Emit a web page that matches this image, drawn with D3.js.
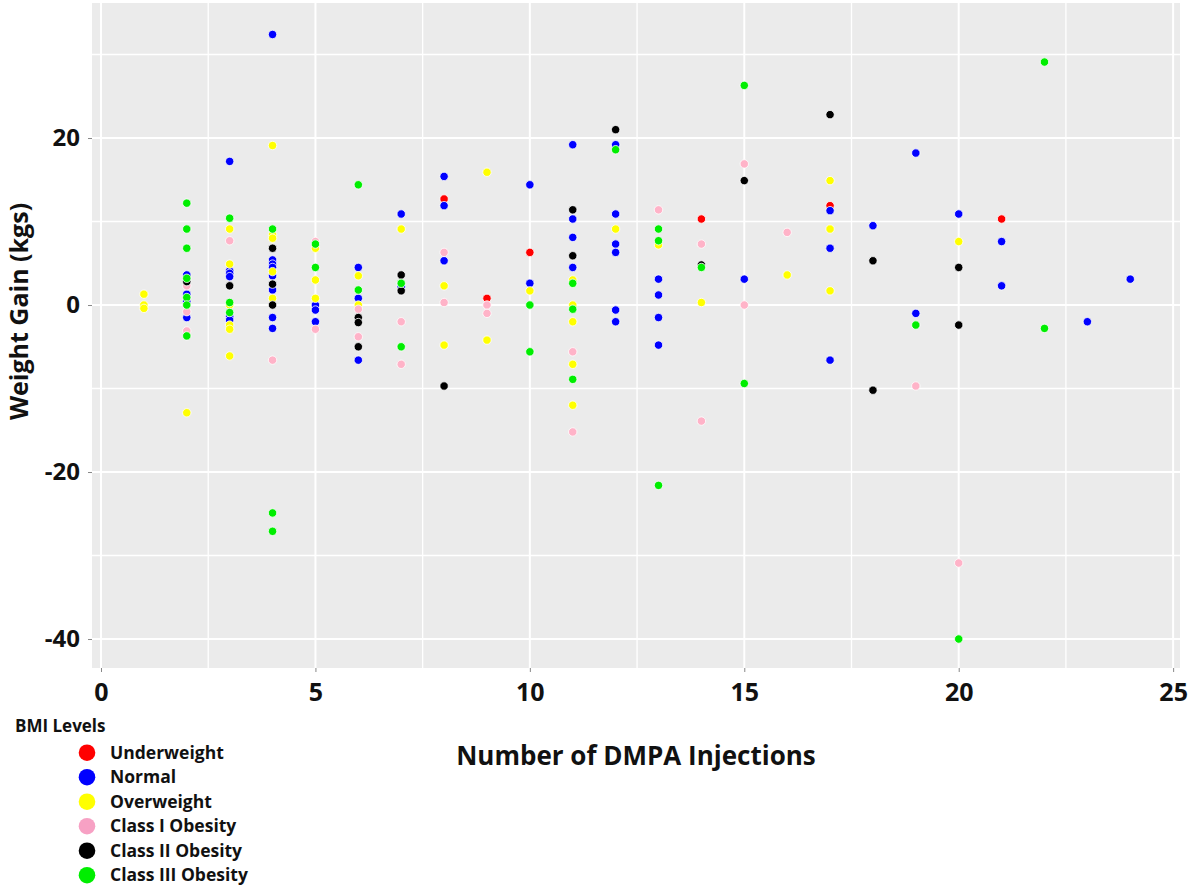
<!DOCTYPE html>
<html>
<head>
<meta charset="utf-8">
<script src="https://cdn.jsdelivr.net/npm/d3@7/dist/d3.min.js"></script>
<style>
  html, body { margin: 0; padding: 0; background: #ffffff; }
  svg text { font-family: "Open Sans", Lato, sans-serif; font-weight: 700; fill: #111; }
</style>
</head>
<body>
<svg id="chart" width="1200" height="885"></svg>
<script>
// ---- data ----
const levels = ["Underweight", "Normal", "Overweight", "Class I Obesity", "Class II Obesity", "Class III Obesity"];
const levelColors = ["#ff0000", "#0000ff", "#ffff00", "#ffb3c8", "#000000", "#00ee00"];
const legendColors = ["#ff0000", "#0000ff", "#ffff00", "#f7a1c4", "#000000", "#00ee00"];

const underweight = [[8,12.7],[9,0.8],[10,6.3],[14,10.3],[17,11.9],[21,10.3]];
const normal = [
  [2,3.6],[2,1.3],[2,0.4],[2,-1.5],
  [3,17.2],[3,4.1],[3,3.8],[3,3.4],[3,-1.4],[3,-1.8],
  [4,32.4],[4,5.4],[4,4.9],[4,4.5],[4,3.5],[4,1.8],[4,-1.5],[4,-2.8],
  [5,0],[5,-0.6],[5,-2.0],
  [6,4.5],[6,0.8],[6,-6.6],
  [7,10.9],[7,2.2],
  [8,15.4],[8,11.9],[8,5.3],
  [10,14.4],[10,2.6],
  [11,19.2],[11,10.3],[11,8.1],[11,4.5],
  [12,19.2],[12,10.9],[12,7.3],[12,6.3],[12,-0.6],[12,-2.0],
  [13,3.1],[13,1.2],[13,-1.5],[13,-4.8],
  [15,3.1],
  [17,11.3],[17,6.8],[17,-6.6],
  [18,9.5],
  [19,18.2],[19,-1.0],
  [20,10.9],
  [21,7.6],[21,2.3],
  [23,-2.0],
  [24,3.1]
];
const overweight = [
  [1,1.3],[1,0],[1,-0.4],
  [2,-12.9],
  [3,9.1],[3,4.9],[3,0],[3,-2.4],[3,-2.9],[3,-6.1],
  [4,19.1],[4,8.4],[4,8.0],[4,4.0],[4,0.8],
  [5,6.8],[5,3.0],[5,0.8],
  [6,3.5],[6,0],
  [7,9.1],
  [8,2.3],[8,-4.8],
  [9,15.9],[9,-4.2],
  [10,1.7],
  [11,3.0],[11,0],[11,-2.0],[11,-7.1],[11,-12.0],
  [12,9.1],
  [13,7.2],
  [14,0.3],
  [16,3.6],
  [17,14.9],[17,9.1],[17,1.7],
  [20,7.6]
];
const classI = [
  [2,2.3],[2,-0.8],[2,-3.1],
  [3,7.7],
  [4,-6.6],
  [5,7.6],[5,-2.9],
  [6,-0.5],[6,-3.8],
  [7,-2.0],[7,-7.1],
  [8,6.3],[8,0.3],
  [9,0],[9,-1.0],
  [11,-5.6],[11,-15.2],
  [13,11.4],
  [14,7.3],[14,-13.9],
  [15,16.9],[15,0],
  [16,8.7],
  [19,-9.7],
  [20,-30.9]
];
const classII = [
  [2,2.8],
  [3,2.3],
  [4,6.8],[4,2.5],[4,0],
  [6,-1.5],[6,-2.1],[6,-5.0],
  [7,3.6],[7,1.7],
  [8,-9.7],
  [11,11.4],[11,5.9],
  [12,21.0],
  [14,4.8],
  [15,14.9],
  [17,22.8],
  [18,5.3],[18,-10.2],
  [20,4.5],[20,-2.4]
];
const classIII = [
  [2,12.2],[2,9.1],[2,6.8],[2,3.2],[2,0.9],[2,0],[2,-3.7],
  [3,10.4],[3,0.3],[3,-0.9],
  [4,9.1],[4,-24.9],[4,-27.1],
  [5,7.3],[5,4.5],
  [6,14.4],[6,1.8],
  [7,2.6],[7,-5.0],
  [10,0],[10,-5.6],
  [11,2.6],[11,-0.5],[11,-8.9],
  [12,18.6],
  [13,9.1],[13,7.7],[13,-21.6],
  [14,4.5],
  [15,26.3],[15,-9.4],
  [19,-2.4],
  [20,-40.0],
  [22,29.1],[22,-2.8]
];
const seriesData = [underweight, normal, overweight, classI, classII, classIII];

const xTicks = [0, 5, 10, 15, 20, 25];
const xMinor = [2.5, 7.5, 12.5, 17.5, 22.5];
const yTicks = [-40, -20, 0, 20];
const yMinor = [-30, -10, 10, 30];

// ---- layout ----
const svg = d3.select("#chart");
const panel = { left: 92, right: 1180, top: 3, bottom: 668 };
const x = d3.scaleLinear().domain([-0.21, 25.16]).range([panel.left, panel.right]);
const y = d3.scaleLinear().domain([-43.47, 36.17]).range([panel.bottom, panel.top]);

svg.append("rect")
  .attr("x", panel.left).attr("y", panel.top)
  .attr("width", panel.right - panel.left).attr("height", panel.bottom - panel.top)
  .attr("fill", "#ebebeb");

const grid = svg.append("g");
grid.selectAll(".ymin").data(yMinor).join("line")
  .attr("x1", panel.left).attr("x2", panel.right)
  .attr("y1", d => y(d)).attr("y2", d => y(d))
  .attr("stroke", "#fff").attr("stroke-width", 1.3);
grid.selectAll(".xmin").data(xMinor).join("line")
  .attr("y1", panel.top).attr("y2", panel.bottom)
  .attr("x1", d => x(d)).attr("x2", d => x(d))
  .attr("stroke", "#fff").attr("stroke-width", 1.3);
grid.selectAll(".ymaj").data(yTicks).join("line")
  .attr("x1", panel.left).attr("x2", panel.right)
  .attr("y1", d => y(d)).attr("y2", d => y(d))
  .attr("stroke", "#fff").attr("stroke-width", 2);
grid.selectAll(".xmaj").data(xTicks).join("line")
  .attr("y1", panel.top).attr("y2", panel.bottom)
  .attr("x1", d => x(d)).attr("x2", d => x(d))
  .attr("stroke", "#fff").attr("stroke-width", 2);

// axes
const fmt = d => String(d);
const xAxis = svg.append("g")
  .attr("transform", `translate(0,${panel.bottom})`)
  .call(d3.axisBottom(x).tickValues(xTicks).tickSize(4).tickPadding(5).tickFormat(fmt));
xAxis.select(".domain").remove();
xAxis.selectAll(".tick line").attr("stroke", "#888");
xAxis.selectAll(".tick text").attr("font-size", 25).attr("fill", "#111").attr("dy", "0.95em");

const yAxis = svg.append("g")
  .attr("transform", `translate(${panel.left},0)`)
  .call(d3.axisLeft(y).tickValues(yTicks).tickSize(4).tickPadding(8).tickFormat(fmt));
yAxis.select(".domain").remove();
yAxis.selectAll(".tick line").attr("stroke", "#888");
yAxis.selectAll(".tick text").attr("font-size", 24).attr("fill", "#111");

// points
const pts = svg.append("g");
seriesData.forEach((arr, i) => {
  pts.selectAll(null).data(arr).join("circle")
    .attr("cx", d => x(d[0])).attr("cy", d => y(d[1]))
    .attr("r", 4.2)
    .attr("fill", levelColors[i])
    .attr("stroke", "#ffffff").attr("stroke-width", 0.8);
});

// titles
svg.append("text")
  .attr("transform", `translate(28,${(panel.top + panel.bottom) / 2 - 24}) rotate(-90)`)
  .attr("text-anchor", "middle")
  .attr("font-size", 25)
  .text("Weight Gain (kgs)");

svg.append("text")
  .attr("x", 636).attr("y", 765)
  .attr("text-anchor", "middle")
  .attr("font-size", 26)
  .text("Number of DMPA Injections");

// legend
const legend = svg.append("g");
legend.append("text").attr("x", 15).attr("y", 732).attr("font-size", 17).text("BMI Levels");
const items = legend.selectAll(".item").data(levels).join("g")
  .attr("transform", (d, i) => `translate(0,${752.7 + i * 24.5})`);
items.append("circle").attr("cx", 87).attr("cy", 0).attr("r", 8.3).attr("fill", (d, i) => legendColors[i]);
items.append("text").attr("x", 110).attr("y", 6).attr("font-size", 17.5).text(d => d);
</script>
</body>
</html>
